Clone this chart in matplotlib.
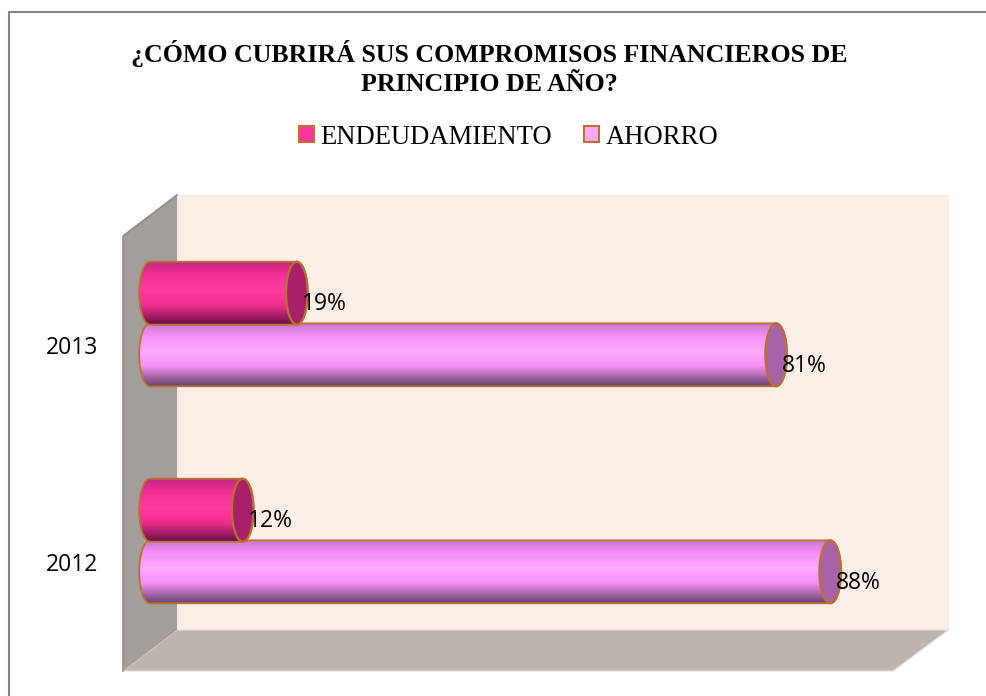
#!/usr/bin/env python3
"""
Barras cilindricas horizontales: compromisos financieros de principio de ano
"""

import numpy as np
import matplotlib
matplotlib.use('Agg')
import matplotlib.pyplot as plt
from matplotlib.colors import LinearSegmentedColormap
from matplotlib.patches import Ellipse, Patch, Polygon

# datos
years = ['2012', '2013']
endeudamiento = [12, 19]
ahorro = [88, 81]
series_names = ['ENDEUDAMIENTO', 'AHORRO']
title = '¿CÓMO CUBRIRÁ SUS COMPROMISOS FINANCIEROS DE\nPRINCIPIO DE AÑO?'

W, H = 987, 696
EDGE = '#b8722f'
BAR_H = 0.29
CAP = 1.4  # semi-ancho de la elipse, en unidades de x
LABEL_FONT = 'Open Sans'

pink_cmap = LinearSegmentedColormap.from_list('pink', [
    (0.0, '#c4297f'), (0.18, '#ee2f92'), (0.45, '#ff3ba2'),
    (0.68, '#f02f90'), (0.85, '#a81e68'), (1.0, '#66103f')])
lilac_cmap = LinearSegmentedColormap.from_list('lilac', [
    (0.0, '#c878c8'), (0.18, '#f58cf5'), (0.45, '#ffaaff'),
    (0.68, '#f590f5'), (0.85, '#a868a8'), (1.0, '#6a4578')])


def px_axes(fig, left, top, right, bottom):
    """Crea ejes a partir de coordenadas en pixeles"""
    return fig.add_axes([left / W, 1 - bottom / H, (right - left) / W, (bottom - top) / H])


def draw_cylinder(ax, y, value, cmap, cap_color):
    """Dibuja una barra cilindrica horizontal"""
    top, bottom = y + BAR_H / 2, y - BAR_H / 2
    t = np.linspace(np.pi / 2, 3 * np.pi / 2, 40)
    left_arc = np.column_stack([CAP * np.cos(t), y + BAR_H / 2 * np.sin(t)])
    right_arc = np.column_stack([value - CAP * np.cos(t), y - BAR_H / 2 * np.sin(t)])
    outline = np.vstack([left_arc, right_arc])

    gradient = np.linspace(0, 1, 128).reshape(-1, 1)
    img = ax.imshow(gradient, cmap=cmap, aspect='auto', origin='upper',
                    extent=[-CAP, value + CAP, bottom, top], zorder=3 + y)
    shape = Polygon(outline, closed=True, facecolor='none', edgecolor=EDGE,
                    linewidth=1.3, zorder=3.005 + y, clip_on=False)
    ax.add_patch(shape)
    img.set_clip_path(shape)
    img.set_clip_box(ax.figure.bbox)
    ax.add_patch(Ellipse((value, y), 2 * CAP, BAR_H, facecolor=cap_color, edgecolor=EDGE,
                         linewidth=1.6, zorder=3.01 + y, clip_on=False))


def main():
    fig = plt.figure(figsize=(W / 100, H / 100), dpi=100, facecolor='white')

    # fondo 3D en pixeles
    bg = fig.add_axes([0, 0, 1, 1])
    bg.set_xlim(0, W)
    bg.set_ylim(H, 0)
    bg.axis('off')
    bg.plot([8.5, 8.5, W], [H, 12, 12], color='#868686', linewidth=1.5)
    bg.add_patch(Polygon([(177, 195), (948, 195), (948, 630), (177, 630)], facecolor='#fdefe7',
                         edgecolor='#f5e8e0', linewidth=0.8))
    bg.add_patch(Polygon([(123, 671), (177, 630), (948, 630), (893, 671)], facecolor='#bfb5b0',
                         edgecolor='#e0dad6', linewidth=0.8))
    bg.add_patch(Polygon([(123, 236), (177, 195), (177, 630), (123, 671)], facecolor='#a39e9a',
                         edgecolor='none'))
    bg.plot([123, 123, 177], [671, 236, 195], color='#8c8c8c', linewidth=1.2)

    # ejes de datos
    ax = px_axes(fig, 150, 215.5, 923, 649.5)
    ax.patch.set_alpha(0)
    for spine in ax.spines.values():
        spine.set_visible(False)

    ys = np.arange(len(years))
    for i, y in enumerate(ys):
        draw_cylinder(ax, y - 0.142, ahorro[i], lilac_cmap, '#a862a8')
        draw_cylinder(ax, y + 0.142, endeudamiento[i], pink_cmap, '#a82068')
        ax.text(ahorro[i] + 0.7, y - 0.142 - 0.05, f'{ahorro[i]}%', family=LABEL_FONT,
                fontsize=16.5, va='center', ha='left', zorder=10, clip_on=False)
        ax.text(endeudamiento[i] + 0.7, y + 0.142 - 0.05, f'{endeudamiento[i]}%', family=LABEL_FONT,
                fontsize=16.5, va='center', ha='left', zorder=10, clip_on=False)

    ax.set_xlim(0, 100)
    ax.set_ylim(-0.5, 1.5)
    ax.set_xticks([])
    # las etiquetas quedan un poco por debajo del centro de cada grupo
    ax.set_yticks(ys - 0.097)
    ax.set_yticklabels(years, family=LABEL_FONT, fontsize=16.5)
    ax.tick_params(axis='y', length=0, pad=37)

    fig.text(489 / W, 1 - 68 / H, title, family='Liberation Serif', fontweight='bold',
             fontsize=18.6, ha='center', va='center', linespacing=1.3)

    handles = [Patch(facecolor='#ff339c', edgecolor=EDGE, linewidth=1.5),
               Patch(facecolor='#ffa6ff', edgecolor=EDGE, linewidth=1.5)]
    fig.legend(handles, series_names, loc='center', bbox_to_anchor=(508.5 / W, 1 - 137 / H),
               ncol=2, frameon=False, handlelength=0.56, handleheight=0.56,
               handletextpad=0.25, columnspacing=1.2,
               prop={'family': 'Liberation Serif', 'size': 19.2})

    plt.savefig('out.png', dpi=100)


if __name__ == '__main__':
    main()
